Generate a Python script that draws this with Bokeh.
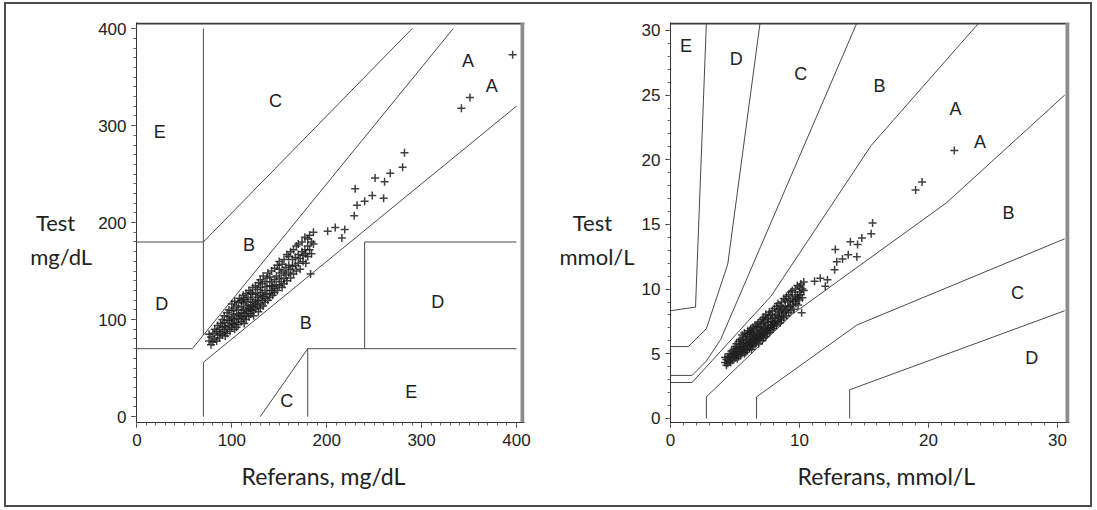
from bokeh.plotting import figure
from bokeh.models import Range1d, FixedTicker, Span, Title
from bokeh.layouts import row
from bokeh.core.properties import value
from bokeh.embed import file_html
from bokeh.resources import INLINE

# ---------------- data (mg/dL) ----------------
ref_mgdl = [
    76, 76, 78, 78, 80, 80, 82, 82, 84, 84, 85, 85, 87, 87, 88, 88,
    90, 90, 90, 92, 92, 92, 93, 93, 95, 95, 95, 95, 97, 97, 97, 98, 98,
    100, 100, 100, 100, 100, 102, 102, 102, 103, 103, 103,
    105, 105, 105, 105, 107, 107, 107, 107, 108, 108,
    110, 110, 110, 110, 110, 112, 112, 112, 112, 113, 113, 113,
    115, 115, 115, 115, 115, 117, 117, 117, 118, 118, 118,
    120, 120, 120, 120, 120, 122, 122, 122, 122, 123, 123,
    125, 125, 125, 125, 125, 127, 127, 127, 128, 128, 128,
    130, 130, 130, 130, 130, 132, 132, 132, 133, 133, 133,
    135, 135, 135, 135, 137, 137, 137, 138, 138,
    140, 140, 140, 140, 142, 142, 142, 143, 143,
    145, 145, 145, 145, 147, 147, 148, 148,
    150, 150, 150, 150, 152, 152, 153, 153,
    155, 155, 155, 155, 157, 157, 158, 158,
    160, 160, 160, 162, 162, 162, 164, 164, 165, 165,
    167, 167, 168, 168, 170, 170, 170, 172, 172, 174, 174, 175, 175,
    177, 177, 178, 178, 180, 180, 180, 182, 182, 184, 184, 183, 186, 186,
    201, 209, 216, 219, 229, 232, 230, 240, 248, 251, 260, 261, 267, 280, 282,
    342, 351, 396,
]
test_mgdl = [
    78, 85, 74, 82, 86, 77, 80, 90, 88, 78, 84, 94, 90, 81, 96, 86,
    84, 92, 100, 88, 97, 104, 83, 93, 90, 99, 107, 86, 94, 103, 110, 88, 99,
    92, 101, 109, 116, 96, 95, 105, 112, 90, 100, 119,
    97, 106, 114, 92, 101, 110, 118, 95, 104, 122,
    98, 107, 113, 120, 103, 101, 110, 117, 125, 106, 96, 121,
    104, 111, 119, 127, 100, 108, 115, 123, 103, 112, 130,
    106, 114, 121, 128, 110, 109, 118, 126, 133, 113, 104,
    111, 119, 127, 135, 116, 114, 123, 131, 108, 120, 138,
    116, 125, 133, 141, 112, 120, 128, 137, 114, 124, 145,
    122, 130, 139, 118, 126, 134, 143, 120, 148,
    127, 135, 144, 123, 130, 139, 150, 125, 134,
    132, 141, 153, 128, 136, 145, 130, 156,
    135, 143, 152, 160, 139, 148, 133, 157,
    142, 150, 162, 137, 146, 154, 140, 167,
    148, 156, 165, 143, 152, 170, 155, 162, 147, 172,
    156, 164, 150, 176, 158, 167, 178, 152, 163, 170, 180, 160, 166,
    172, 185, 158, 168, 165, 176, 183, 172, 187, 168, 180, 147, 178, 190,
    191, 195, 184, 193, 207, 218, 235, 222, 228, 246, 225, 242, 251, 257, 272,
    318, 329, 373,
]
MGDL_PER_MMOL = 18.0  # unit conversion of the same readings for the right panel
ref_mmol = [v / MGDL_PER_MMOL for v in ref_mgdl]
test_mmol = [v / MGDL_PER_MMOL for v in test_mgdl]

# Clarke error grid boundaries (mg/dL)
clarke_xs = [
    [0, 58.33], [58.33, 333.33], [70, 70], [0, 70], [70, 290], [70, 70],
    [70, 400], [180, 180], [180, 400], [240, 240], [240, 400], [130, 180],
]
clarke_ys = [
    [70, 70], [70, 400], [84, 400], [180, 180], [180, 400], [0, 56],
    [56, 320], [0, 70], [70, 70], [70, 180], [180, 180], [0, 70],
]
clarke_zone_text = ["E", "D", "C", "B", "B", "D", "C", "E", "A", "A"]
clarke_zone_x = [24, 26, 146, 118, 178, 317, 158, 289, 349, 374]
clarke_zone_y = [293, 116, 325, 177, 96, 118, 16, 25, 367, 341]

# Parkes error grid boundaries (mmol/L)
parkes_xs = [
    [0, 1.67, 7.78, 15.56, 23.89],
    [2.78, 2.78, 9.44, 21.39, 30.56],
    [0, 1.67, 2.78, 3.89, 14.44],
    [6.67, 6.67, 14.44, 30.56],
    [0, 1.39, 2.78, 4.44, 6.94],
    [13.89, 13.89, 30.56],
    [0, 1.94, 2.78],
]
parkes_ys = [
    [2.78, 2.78, 9.44, 21.11, 30.56],
    [0, 1.67, 8.06, 16.67, 25.0],
    [3.33, 3.33, 4.44, 6.11, 30.56],
    [0, 1.67, 7.22, 13.89],
    [5.56, 5.56, 6.94, 11.94, 30.56],
    [0, 2.22, 8.33],
    [8.33, 8.61, 30.56],
]
parkes_zone_text = ["E", "D", "C", "B", "A", "A", "B", "C", "D"]
parkes_zone_x = [1.2, 5.1, 10.1, 16.2, 22.1, 24.0, 26.2, 26.9, 28.0]
parkes_zone_y = [28.8, 27.8, 26.6, 25.7, 23.9, 21.4, 15.9, 9.7, 4.7]

left_ticks = [0, 100, 200, 300, 400]
right_ticks = [0, 5, 10, 15, 20, 25, 30]
right_xticks = [0, 10, 20, 30]

TICK_FONT = "Liberation Sans"
TITLE_FONT = "Lato"
LINE_COLOR = "#4a4a4a"
NB = "\u00a0"


def make_panel(width, height, mb_left, mb_right, mb_top, mb_bottom,
               xr, yr, xticks, xminor, yticks, yminor, xlabel, xlabel_offset,
               ylabel, ylabel_standoff, px_x, px_y):
    p = figure(width=width, height=height, output_backend="svg",
               toolbar_location=None, x_range=Range1d(*xr), y_range=Range1d(*yr),
               min_border_left=mb_left, min_border_right=mb_right,
               min_border_top=mb_top, min_border_bottom=mb_bottom)
    p.grid.visible = False
    p.outline_line_color = None
    p.background_fill_color = "white"
    p.border_fill_color = "white"
    p.xaxis.ticker = FixedTicker(ticks=xticks, minor_ticks=xminor)
    p.yaxis.ticker = FixedTicker(ticks=yticks, minor_ticks=yminor)
    for ax in (p.xaxis, p.yaxis):
        ax.axis_line_color = "#333333"
        ax.axis_line_width = 1
        ax.major_tick_line_color = "#333333"
        ax.minor_tick_line_color = "#666666"
        ax.major_tick_in = 0
        ax.major_tick_out = 5
        ax.minor_tick_in = 0
        ax.minor_tick_out = 3
        ax.major_label_text_font = TICK_FONT
        ax.major_label_text_font_size = "17px"
        ax.major_label_text_color = "#222222"
        ax.axis_label_text_font = TITLE_FONT
        ax.axis_label_text_font_size = "22px"
        ax.axis_label_text_font_style = "normal"
        ax.axis_label_text_color = "#222222"
    p.xaxis.major_label_standoff = 6
    p.yaxis.major_label_standoff = 5
    p.yaxis.axis_label = ylabel
    p.yaxis.axis_label_orientation = "horizontal"
    p.yaxis.axis_label_text_align = "center"
    p.yaxis.axis_label_text_line_height = 1.25
    p.yaxis.axis_label_standoff = ylabel_standoff
    p.add_layout(Title(text=xlabel, align="left", offset=xlabel_offset,
                       text_font=TITLE_FONT, text_font_size="23px",
                       text_font_style="normal", text_color="#222222",
                       standoff=23), "below")
    # frame borders: dark top edge, broad grey right edge
    p.add_layout(Span(location=yr[1] - 1.0 * px_y, dimension="width",
                      line_color="#3a3a3a", line_width=2))
    p.add_layout(Span(location=xr[1] - 2.0 * px_x, dimension="height",
                      line_color="#8c8c8c", line_width=4))
    return p


# ---------------- left panel (mg/dL) ----------------
p1 = make_panel(542, 501, 130, 24, 18, 76,
                (-0.5, 408.5), (-6.1, 406.3),
                left_ticks, list(range(0, 401, 10)),
                left_ticks, list(range(0, 401, 10)),
                "Referans, mg/dL", 105, "\nTest" + NB * 3 + "\nmg/dL", 3, 1.054, 1.018)
p1.multi_line(xs=clarke_xs, ys=clarke_ys, line_color=LINE_COLOR, line_width=1)
p1.text(x=clarke_zone_x, y=clarke_zone_y, text=clarke_zone_text,
        text_font=value(TICK_FONT), text_font_size="18px", text_color="#222222",
        text_align="center", text_baseline="middle")
p1.scatter(ref_mgdl, test_mgdl, marker="cross", size=8, line_color="#1e1e1e",
           line_width=1.5, line_alpha=0.85)

# ---------------- right panel (mmol/L) ----------------
p2 = make_panel(542, 501, 122, 21, 17, 83,
                (0, 30.93), (-0.31, 30.61),
                right_xticks, list(range(0, 31, 1)),
                right_ticks, list(range(0, 31, 1)),
                "Referans, mmol/L", 127, "\nTest" + NB * 4 + "\nmmol/L", 4, 0.0775, 0.0771)
p2.multi_line(xs=parkes_xs, ys=parkes_ys, line_color=LINE_COLOR, line_width=1)
p2.text(x=parkes_zone_x, y=parkes_zone_y, text=parkes_zone_text,
        text_font=value(TICK_FONT), text_font_size="18px", text_color="#222222",
        text_align="center", text_baseline="middle")
p2.scatter(ref_mmol, test_mmol, marker="cross", size=8, line_color="#1e1e1e",
           line_width=1.5, line_alpha=0.85)

layout = row(p1, p2, styles={"border": "2px solid #4d4d4d",
                             "margin-left": "4px", "margin-top": "2px"})

open("out.html", "w").write(file_html(layout, INLINE))
